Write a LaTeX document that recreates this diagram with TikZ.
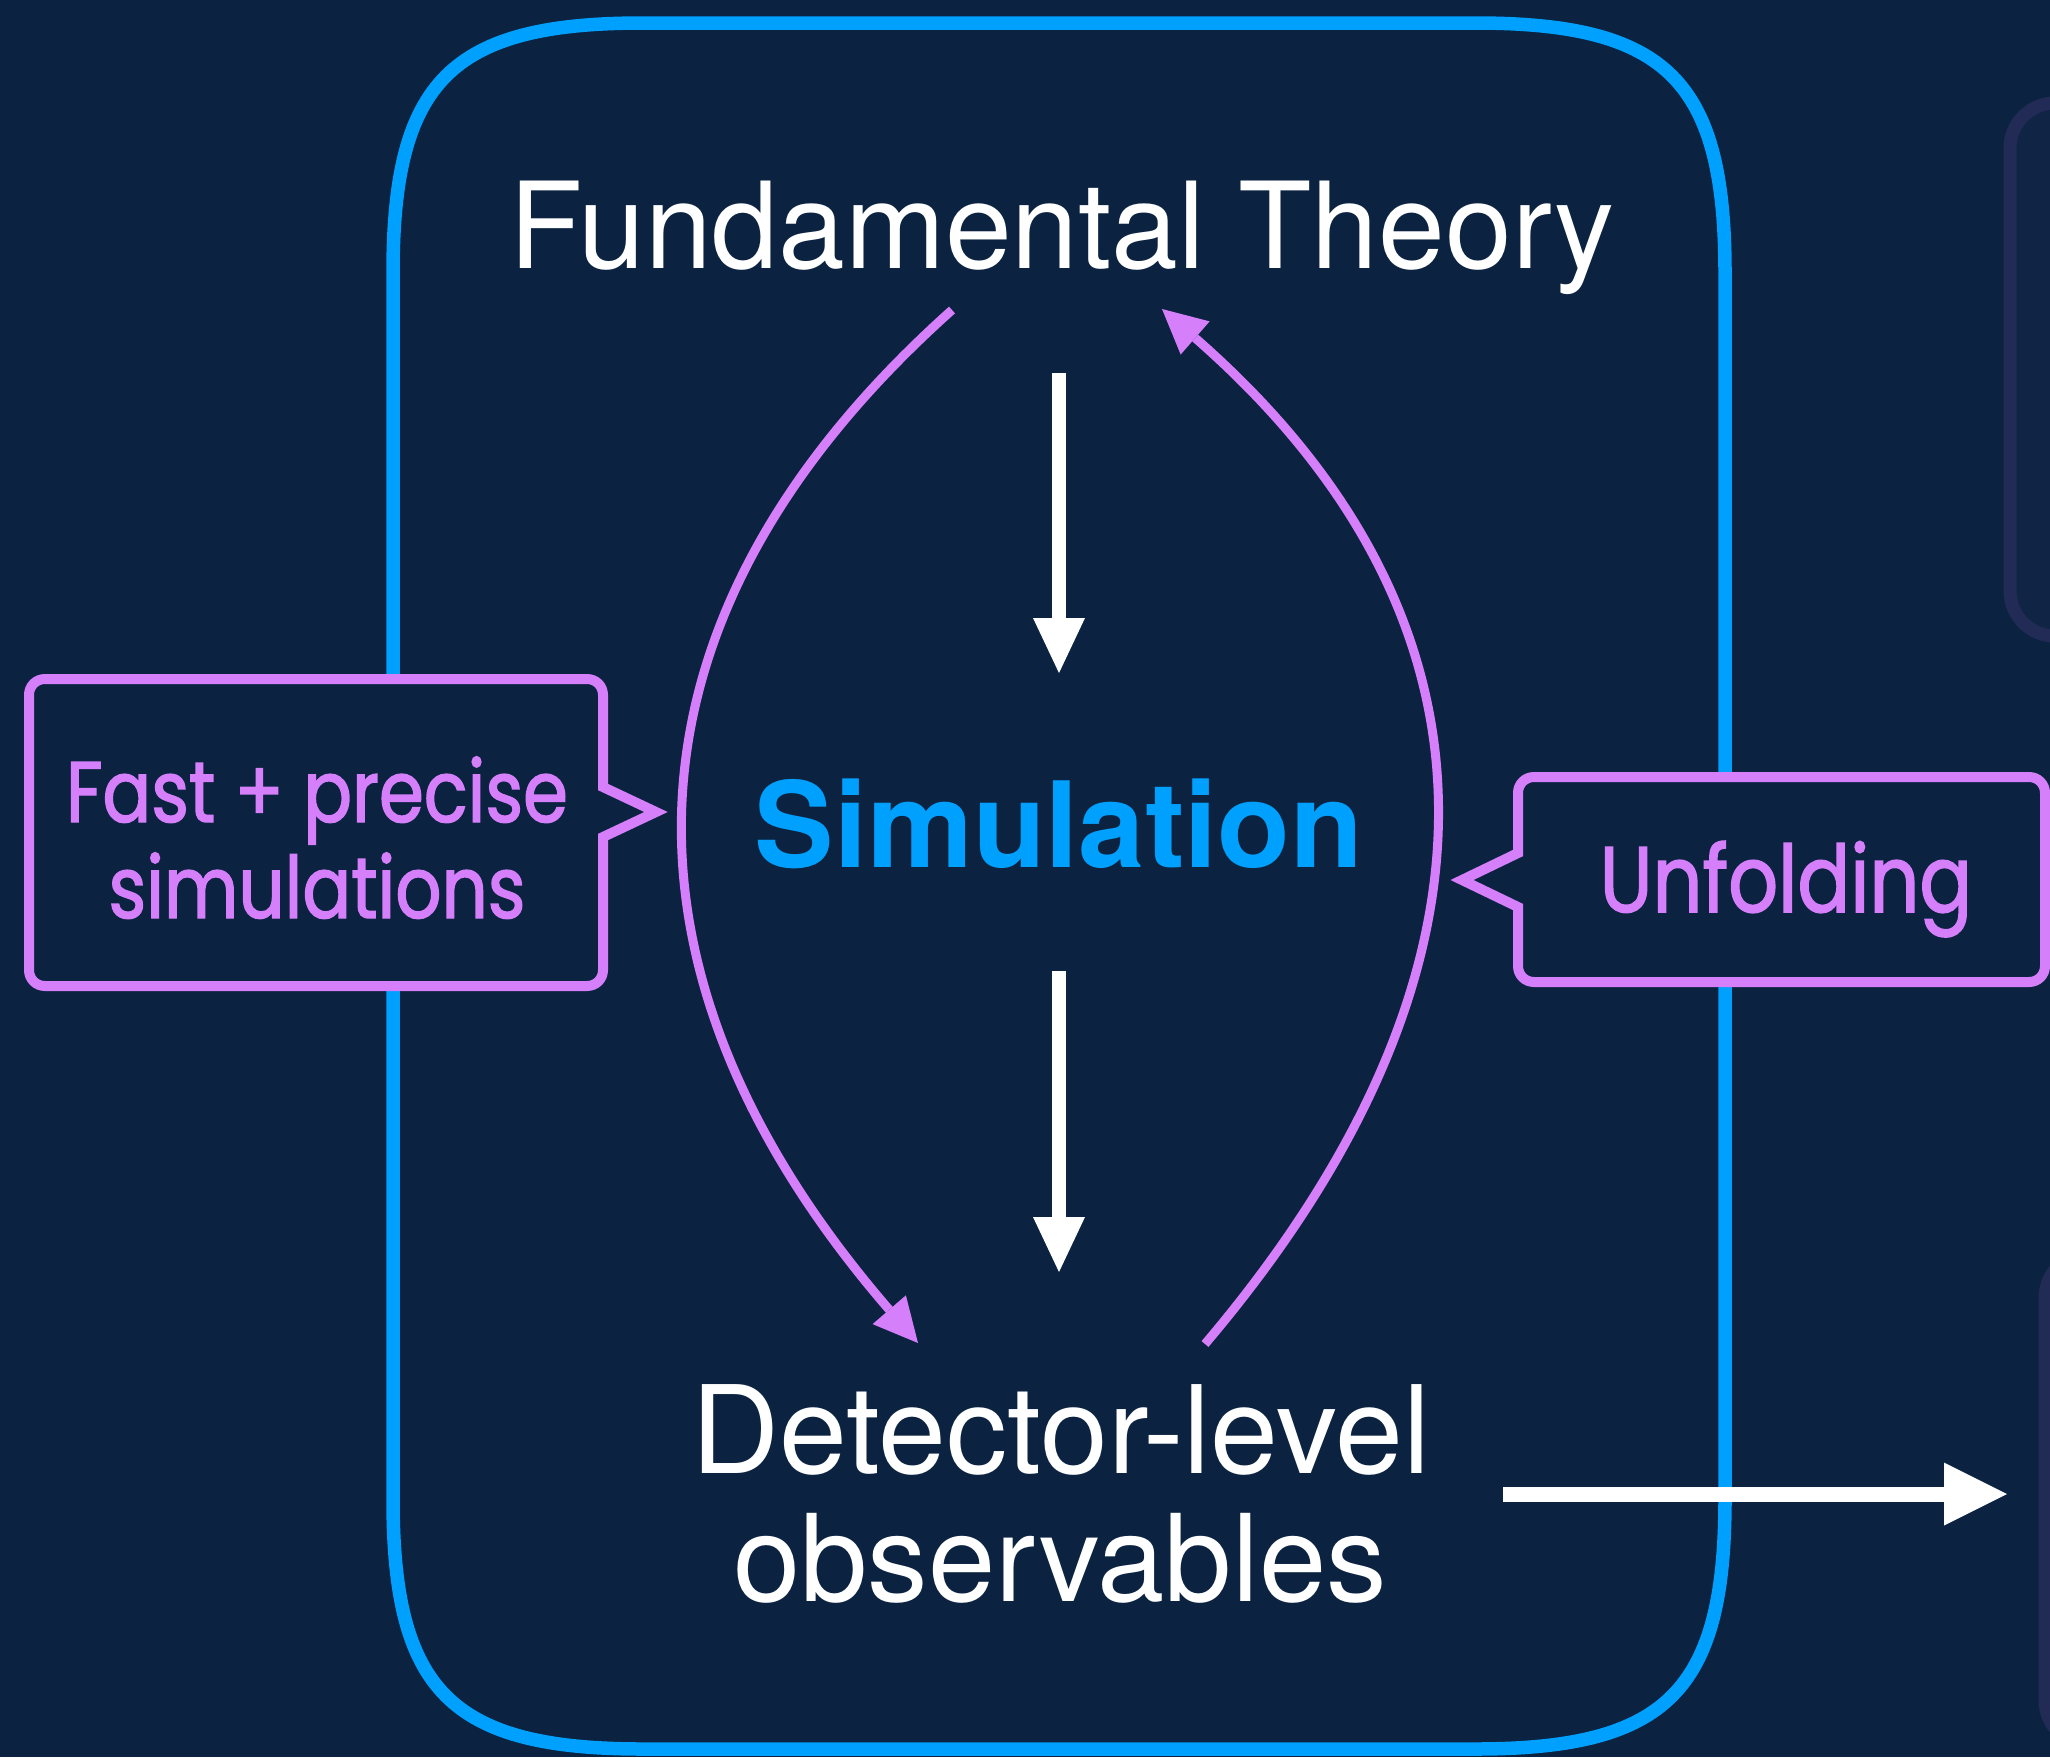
\documentclass[tikz,border=0pt]{standalone}
\usepackage{fontspec}
\setmainfont{TeX Gyre Heros}
\newfontfamily\calloutfont[FakeStretch=0.84,FakeBold=1.6]{Poppins}
\usetikzlibrary{arrows.meta}
\definecolor{bgnavy}{RGB}{11,35,65}
\definecolor{boxblue}{RGB}{0,160,255}
\definecolor{lilac}{RGB}{213,128,250}
\definecolor{faintline}{RGB}{33,43,86}
\definecolor{faintfill}{RGB}{16,37,69}
\tikzset{
  bluebox/.style={draw=boxblue, line width=13.5pt},
  callout/.style={draw=lilac, fill=bgnavy, line width=10pt, line join=miter},
  maintext/.style={text=white, inner sep=0pt, anchor=base, font=\fontsize{121}{128}\selectfont},
  simtext/.style={text=boxblue, inner sep=0pt, anchor=base, font=\fontsize{119}{128}\selectfont\bfseries},
  callouttext/.style={text=lilac, inner sep=0pt, anchor=base},
  whitearrow/.style={draw=white, line width=14pt, -{Triangle[length=55pt,width=52pt,line width=0pt]}},
  bigwhitearrow/.style={draw=white, line width=15pt, -{Triangle[length=63pt,width=63pt,line width=0pt]}},
  lilacarrow/.style={draw=lilac, line width=9pt, -{Triangle[length=44pt,width=44pt,line width=0pt]}},
  faintbox/.style={draw=faintline, fill=faintfill, line width=13pt, rounded corners=45pt},
}
\begin{document}
\begin{tikzpicture}[x=1pt,y=-1pt]
\useasboundingbox (0,0) rectangle (2050,1757);
\fill[bgnavy] (0,0) rectangle (2050,1757);
\begin{scope}
\clip (0,0) rectangle (2050,1757);
% faint neighbouring panels at right edge
\path[faintbox] (2010,103) rectangle (2300,636);
\path[faintbox] (2045,1253) rectangle (2300,1745);
% main blue panel
\draw[bluebox] (393,273) .. controls (393,81) and (451,23) .. (643,23) -- (1475,23)
  .. controls (1667,23) and (1725,81) .. (1725,273) -- (1725,1499)
  .. controls (1725,1691) and (1667,1749) .. (1475,1749) -- (643,1749)
  .. controls (451,1749) and (393,1691) .. (393,1499) -- cycle;
% callouts
\draw[callout] (45,679) -- (587,679) .. controls (596,679) and (603,686) .. (603,695)
  -- (603,787) -- (656,812) -- (603,837) -- (603,970)
  .. controls (603,979) and (596,986) .. (587,986) -- (45,986)
  .. controls (36,986) and (29,979) .. (29,970) -- (29,695)
  .. controls (29,686) and (36,679) .. (45,679) -- cycle;
\draw[callout] (1534,777) -- (2029,777) .. controls (2038,777) and (2045,784) .. (2045,793)
  -- (2045,966) .. controls (2045,975) and (2038,982) .. (2029,982) -- (1534,982)
  .. controls (1525,982) and (1518,975) .. (1518,966) -- (1518,907) -- (1462,880)
  -- (1518,853) -- (1518,793) .. controls (1518,784) and (1525,777) .. (1534,777) -- cycle;
\end{scope}
% texts
\node[maintext, font=\fontsize{120}{128}\selectfont] (theory) at (1062,268) {Fundamental Theory};
\node[simtext] (sim) at (1059,867) {Simulation};
\node[maintext, font=\fontsize{122}{128}\selectfont] (det1) at (1061,1473) {Detector-level};
\node[maintext] (det2) at (1060,1601) {observables};
\node[callouttext, font=\calloutfont\fontsize{86}{96}\selectfont] (fast1) at (317,822) {Fast + precise};
\node[callouttext, font=\calloutfont\fontsize{86}{96}\selectfont] (fast2) at (317,918) {simulations};
\node[callouttext, font=\calloutfont\fontsize{93}{100}\selectfont] (unfold) at (1786,912) {Unfolding};
% connector anchor points
\coordinate (a1s) at (1059,373);
\coordinate (a1e) at (1059,673);
\coordinate (a2s) at (1059,971);
\coordinate (a2e) at (1059,1272);
\coordinate (a3s) at (1503,1494);
\coordinate (a3e) at (2007,1494);
\coordinate (ls) at (952,310);
\coordinate (le) at (918,1343);
\coordinate (rs) at (1205,1344);
\coordinate (re) at (1162,309);
% white arrows
\draw[whitearrow] (a1s) -- (a1e);
\draw[whitearrow] (a2s) -- (a2e);
\draw[bigwhitearrow] (a3s) -- (a3e);
% lilac curved arrows
\draw[lilacarrow] (ls) .. controls (605,620) and (600,975) .. (le);
\draw[lilacarrow] (rs) .. controls (1518,975) and (1518,620) .. (re);
\end{tikzpicture}
\end{document}
